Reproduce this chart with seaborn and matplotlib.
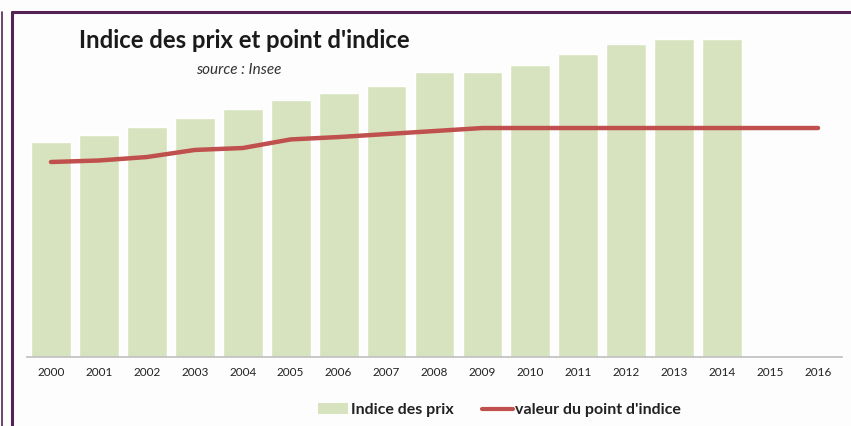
import numpy as np
import pandas as pd
import matplotlib.pyplot as plt
import seaborn as sns
from matplotlib.lines import Line2D
from matplotlib.patches import Patch

# values (no y scale shown, so arbitrary units, 2000 bar = 100)
years = [str(y) for y in range(2000, 2017)]
prix_years = [str(y) for y in range(2000, 2015)]
indice_prix = [100.0, 103.3, 107.0, 111.2, 115.3, 119.5, 122.8, 126.0,
               132.6, 132.6, 135.8, 140.9, 145.6, 147.9, 147.9]
point_indice = [90.7, 91.4, 93.0, 96.3, 97.2, 101.2, 102.3, 103.7, 105.1,
                106.5, 106.5, 106.5, 106.5, 106.5, 106.5, 106.5, 106.5]

BAR_COLOR = "#D7E3BE"
LINE_COLOR = "#C0504D"
FRAME = "#552255"

sns.set_style("white")
plt.rcParams["font.family"] = ["Lato", "DejaVu Sans"]

fig = plt.figure(figsize=(8.51, 4.26), dpi=100, facecolor="#FDFDFD")
ax = fig.add_axes([27 / 851, 69 / 426, 815 / 851, 346 / 426])
ax.set_facecolor("none")

df = pd.DataFrame({"annee": prix_years, "prix": indice_prix})
sns.barplot(data=df, x="annee", y="prix", order=years, color=BAR_COLOR,
            width=0.83, saturation=1, ax=ax)
sns.lineplot(x=np.arange(len(years)), y=point_indice, color=LINE_COLOR,
             linewidth=3.2, ax=ax)

ax.set_xlim(-0.5, len(years) - 0.5)
ax.set_ylim(0, 346 / 2.15)
ax.set_xlabel("")
ax.set_ylabel("")
ax.set_yticks([])
ax.tick_params(axis="x", length=0, pad=7, labelsize=8.5, labelcolor="#222222")
for s in ["top", "right", "left"]:
    ax.spines[s].set_visible(False)
ax.spines["bottom"].set_color("#BFBFBF")
ax.spines["bottom"].set_linewidth(1.2)

fig.text(0.287, 0.906, "Indice des prix et point d'indice", ha="center",
         va="center", fontsize=17.2, fontweight="bold", color="#1a1a1a")
fig.text(0.28, 0.835, "source : Insee", ha="center", va="center",
         fontsize=11, style="italic", color="#333333")

handles = [Patch(facecolor=BAR_COLOR, edgecolor="none", label="Indice des prix"),
           Line2D([], [], color=LINE_COLOR, linewidth=3, label="valeur du point d'indice")]
leg = fig.legend(handles=handles, loc="center", bbox_to_anchor=(0.587, 0.037),
                 ncol=2, frameon=False, fontsize=11.5, handlelength=1.9,
                 handletextpad=0.15, columnspacing=1.8)
for t in leg.get_texts():
    t.set_fontweight("bold")
    t.set_color("#222222")

# outer frame lines
fig.add_artist(Line2D([12 / 851, 12 / 851], [0, 1 - 12 / 426], color=FRAME, linewidth=2.2))
fig.add_artist(Line2D([12 / 851, 1], [1 - 12 / 426, 1 - 12 / 426], color=FRAME, linewidth=2.2))
fig.add_artist(Line2D([1.5 / 851, 1.5 / 851], [0, 1 - 12 / 426], color=FRAME, linewidth=1.2))

fig.savefig("out.png", dpi=100, facecolor=fig.get_facecolor())
